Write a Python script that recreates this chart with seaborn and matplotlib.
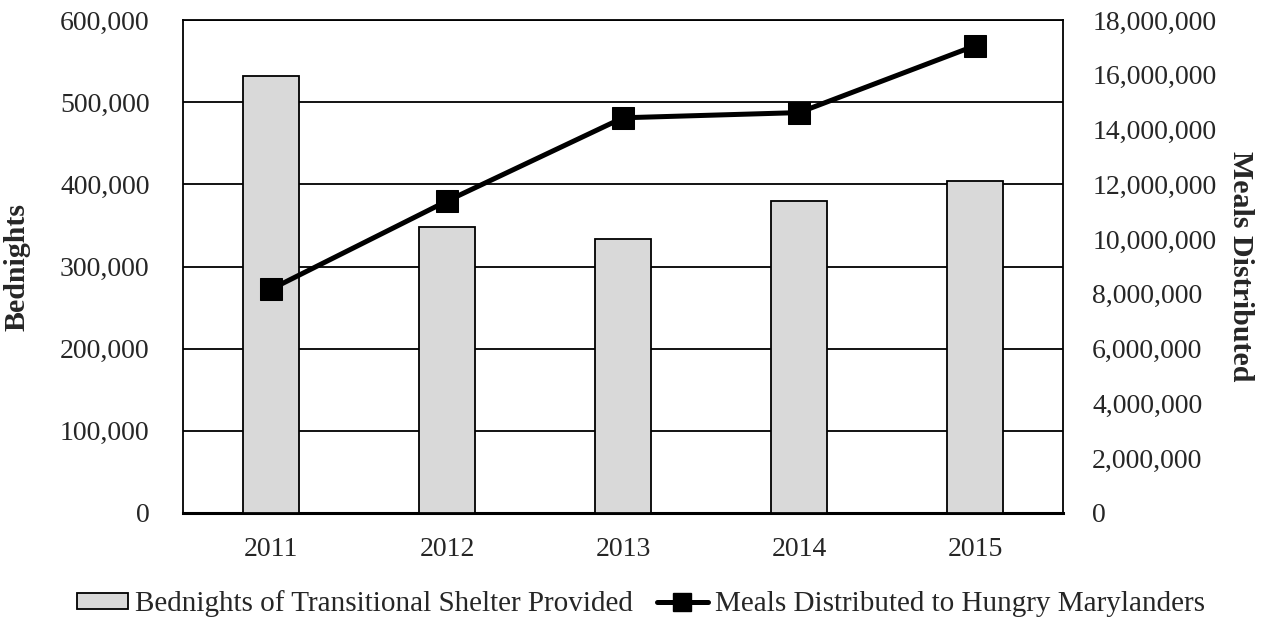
import numpy as np
import pandas as pd
import matplotlib
matplotlib.use("Agg")
import matplotlib.pyplot as plt
from matplotlib.patches import Patch
from matplotlib.lines import Line2D
from matplotlib.ticker import FuncFormatter, MultipleLocator
import seaborn as sns

years = ["2011", "2012", "2013", "2014", "2015"]
bednights = [531600, 347900, 333000, 380000, 404300]
meals = [8170000, 11390000, 14430000, 14620000, 17060000]

bar_label = "Bednights of Transitional Shelter Provided"
line_label = "Meals Distributed to Hungry Marylanders"

sns.set_theme(style="white")
plt.rcParams["font.family"] = ["Liberation Serif", "DejaVu Serif"]
plt.rcParams["font.size"] = 20

df = pd.DataFrame({"year": years, "bednights": bednights, "meals": meals})
df["pos"] = np.arange(len(df))

fig = plt.figure(figsize=(12.68, 6.2), dpi=100)
ax = fig.add_axes([0.1443, 0.1726, 0.694, 0.7951])

sns.barplot(data=df, x="year", y="bednights", ax=ax, color="#d9d9d9",
            saturation=1, width=0.32, edgecolor="black", linewidth=1.3, zorder=3)

ax.set_ylim(0, 600000)
ax.set_xlim(-0.5, len(years) - 0.5)
ax.yaxis.set_major_locator(MultipleLocator(100000))
ax.yaxis.set_major_formatter(FuncFormatter(lambda v, p: f"{int(v):,}"))
ax.grid(axis="y", color="black", linewidth=1.3, zorder=0)
ax.set_axisbelow(True)
ax.set_xlabel("")
ax.set_ylabel("Bednights", fontsize=21.5, fontweight="bold")
ax.yaxis.set_label_coords(-0.173, 0.5)
ax.tick_params(axis="y", length=0, labelsize=20, pad=24)
ax.tick_params(axis="x", length=0, labelsize=20, pad=17)
for side in ["left", "top", "right"]:
    ax.spines[side].set_color("black")
    ax.spines[side].set_linewidth(1.3)
ax.spines["bottom"].set_color("black")
ax.spines["bottom"].set_linewidth(2.2)

ax2 = ax.twinx()
sns.lineplot(data=df, x="pos", y="meals", ax=ax2, color="black", linewidth=3.6,
             marker="s", markersize=16, markeredgecolor="black",
             markerfacecolor="black", zorder=5)
ax2.set_ylim(0, 18000000)
ax2.set_xlim(-0.5, len(years) - 0.5)
ax2.yaxis.set_major_locator(MultipleLocator(2000000))
ax2.yaxis.set_major_formatter(FuncFormatter(lambda v, p: f"{int(v):,}"))
ax2.set_xlabel("")
ax2.set_ylabel("Meals Distributed", fontsize=21.5, fontweight="bold", rotation=270)
ax2.yaxis.set_label_coords(1.217, 0.5)
ax2.tick_params(axis="y", length=0, labelsize=20, pad=21)
for s in ax2.spines.values():
    s.set_visible(False)
ax2.grid(False)

handles = [
    Patch(facecolor="#d9d9d9", edgecolor="black", linewidth=1.3),
    Line2D([0], [0], color="black", linewidth=3.6, marker="s", markersize=13),
]
fig.legend(handles, [bar_label, line_label], loc="center",
           bbox_to_anchor=(0.5055, 0.026), ncol=2, frameon=False,
           fontsize=21, handlelength=1.75, handleheight=0.45,
           handletextpad=0.23, columnspacing=0.82, borderpad=0.2)

fig.savefig("out.png", dpi=100)
